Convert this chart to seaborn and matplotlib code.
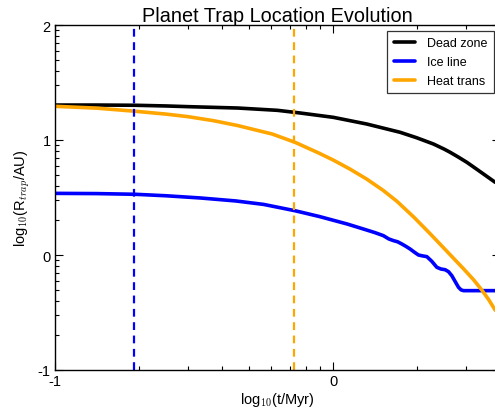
import numpy as np
import pandas as pd
import matplotlib
matplotlib.use("Agg")
import matplotlib.pyplot as plt
import seaborn as sns
from matplotlib.ticker import FixedLocator

# log10(t/Myr) samples and trap locations log10(R/AU)
dead_t = [-1.0, -0.85, -0.712, -0.6, -0.522, -0.342, -0.2, -0.119, 0.001, 0.121, 0.241,
          0.30, 0.361, 0.40, 0.421, 0.45, 0.481, 0.51, 0.541, 0.583]
dead_r = [1.304, 1.304, 1.302, 1.296, 1.290, 1.278, 1.258, 1.235, 1.197, 1.139, 1.067,
          1.020, 0.965, 0.920, 0.893, 0.852, 0.806, 0.757, 0.704, 0.632]

ice_t = [-1.0, -0.85, -0.712, -0.6, -0.478, -0.35, -0.25, -0.137, -0.05, 0.05, 0.109,
         0.15, 0.181, 0.20, 0.217, 0.232, 0.247, 0.262, 0.277, 0.292, 0.307, 0.322,
         0.337, 0.355, 0.373, 0.388, 0.403, 0.415, 0.427, 0.440, 0.451, 0.460, 0.469, 0.583]
ice_r = [0.536, 0.534, 0.528, 0.515, 0.496, 0.47, 0.44, 0.385, 0.335, 0.27, 0.226,
         0.195, 0.168, 0.140, 0.125, 0.115, 0.096, 0.075, 0.052, 0.025, 0.0, -0.008,
         -0.014, -0.055, -0.107, -0.122, -0.128, -0.145, -0.180, -0.235, -0.281, -0.303,
         -0.31, -0.31]

heat_t = [-1.0, -0.85, -0.712, -0.6, -0.522, -0.43, -0.342, -0.219, -0.137, -0.05, 0.001,
          0.06, 0.121, 0.18, 0.229, 0.29, 0.349, 0.41, 0.469, 0.505, 0.535, 0.56, 0.583]
heat_r = [1.293, 1.277, 1.25, 1.225, 1.203, 1.168, 1.125, 1.052, 0.980, 0.885, 0.825,
          0.748, 0.660, 0.562, 0.468, 0.33, 0.185, 0.03, -0.12, -0.215, -0.305, -0.39, -0.48]

series_names = ["Dead zone", "Ice line", "Heat trans"]
series_colors = ["black", "#0000ff", "#ffa500"]

# times at which the ice line and heat transition traps form
ice_mark_t = -0.716
heat_mark_t = -0.14

x_ticks = [-1, 0]
y_ticks = [-1, 0, 1, 2]

df = pd.concat([
    pd.DataFrame({"t": dead_t, "r": dead_r, "trap": series_names[0]}),
    pd.DataFrame({"t": ice_t, "r": ice_r, "trap": series_names[1]}),
    pd.DataFrame({"t": heat_t, "r": heat_r, "trap": series_names[2]}),
], ignore_index=True)

sns.set_style("ticks")
plt.rcParams["font.family"] = ["Liberation Sans", "DejaVu Sans"]
plt.rcParams["mathtext.fontset"] = "cm"
plt.rcParams["text.color"] = "black"
plt.rcParams["axes.labelcolor"] = "black"
plt.rcParams["xtick.color"] = "black"
plt.rcParams["ytick.color"] = "black"

fig = plt.figure(figsize=(4.95, 4.14), dpi=100)
ax = fig.add_axes([55 / 495, 1 - 371 / 414, 1.01 - 55 / 495, (371 - 26) / 414])

sns.lineplot(data=df, x="t", y="r", hue="trap", hue_order=series_names,
             palette=series_colors, estimator=None, sort=False, linewidth=2.6, ax=ax)

ax.axvline(ice_mark_t, color="#0000ff", linestyle=(0, (3.5, 2.5)), linewidth=1.6)
ax.axvline(heat_mark_t, color="#ffa500", linestyle=(0, (3.5, 2.5)), linewidth=1.6)

ax.set_xlim(-1, 0.6)
ax.set_ylim(-1, 2)
ax.set_xticks(x_ticks)
ax.set_yticks(y_ticks)
ax.set_xticklabels([str(v) for v in x_ticks])
ax.set_yticklabels([str(v) for v in y_ticks])

# logarithmic minor ticks within each decade
minor = [d + np.log10(k) for d in (-2, -1, 0, 1) for k in range(2, 10)]
ax.xaxis.set_minor_locator(FixedLocator(minor))
ax.yaxis.set_minor_locator(FixedLocator(minor))
ax.tick_params(which="both", direction="in", top=True, right=True, labelsize=10.5,
               color="black", labelcolor="black", width=0.8, pad=3)
ax.tick_params(which="major", length=6)
ax.tick_params(which="minor", length=3)
for s in ax.spines.values():
    s.set_visible(True)
    s.set_color("black")
    s.set_linewidth(1.0)

ax.set_xlabel(r"log$_{10}$(t/Myr)", fontsize=10.5, labelpad=1, color="black")
ax.set_ylabel(r"log$_{10}$(R$_{trap}$/AU)", fontsize=10.5, labelpad=4, color="black")
ax.set_title("Planet Trap Location Evolution", fontsize=14.3, pad=2, color="black")

leg = ax.legend(loc="upper right", bbox_to_anchor=(494 / 495, 1 - 32 / 414),
                bbox_transform=fig.transFigure, fontsize=9, frameon=True,
                fancybox=False, handlelength=1.7, borderaxespad=0, labelspacing=0.55,
                handletextpad=1.0, borderpad=0.5)
leg.get_frame().set_edgecolor("black")
leg.get_frame().set_linewidth(0.9)
for text in leg.get_texts():
    text.set_color("black")
for line in leg.get_lines():
    line.set_linewidth(2.6)

fig.savefig("out.png", dpi=100)
